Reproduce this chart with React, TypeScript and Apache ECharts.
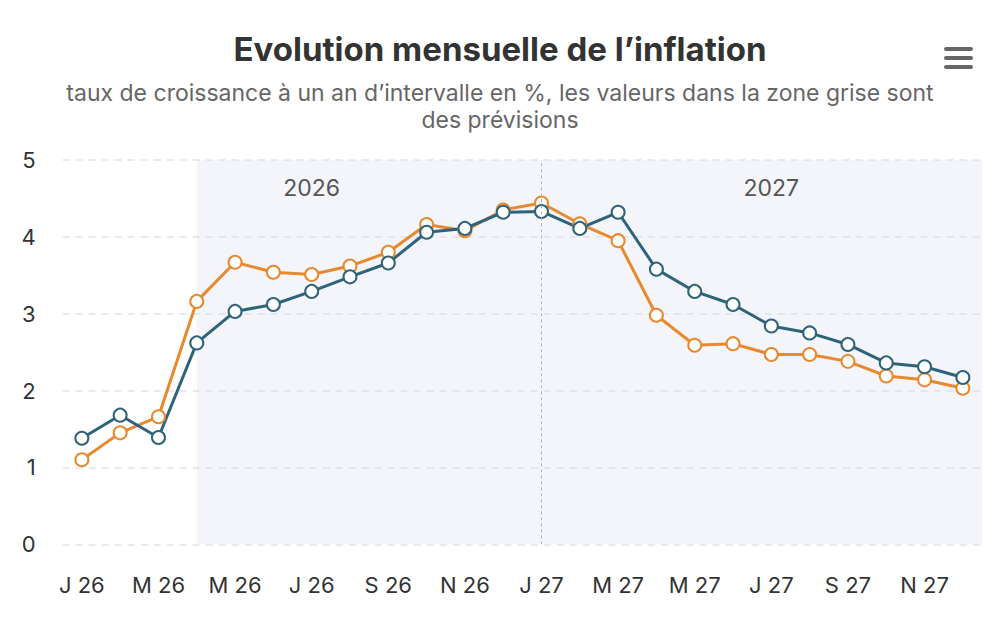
import React, { useEffect, useRef } from "react";
import * as echarts from "echarts";

// Months (unique keys) and their short tick labels
const months = [
  "2026-01", "2026-02", "2026-03", "2026-04", "2026-05", "2026-06",
  "2026-07", "2026-08", "2026-09", "2026-10", "2026-11", "2026-12",
  "2027-01", "2027-02", "2027-03", "2027-04", "2027-05", "2027-06",
  "2027-07", "2027-08", "2027-09", "2027-10", "2027-11", "2027-12",
];
const tickLabels = [
  "J 26", "F 26", "M 26", "A 26", "M 26", "J 26",
  "J 26", "A 26", "S 26", "O 26", "N 26", "D 26",
  "J 27", "F 27", "M 27", "A 27", "M 27", "J 27",
  "J 27", "A 27", "S 27", "O 27", "N 27", "D 27",
];

// Series values (taux de croissance, %)
const inflationOrange = [
  1.10, 1.45, 1.66, 3.16, 3.67, 3.54, 3.51, 3.62, 3.80, 4.16, 4.08, 4.35,
  4.44, 4.17, 3.95, 2.98, 2.59, 2.61, 2.47, 2.47, 2.38, 2.19, 2.14, 2.03,
];
const inflationBlue = [
  1.38, 1.68, 1.39, 2.62, 3.03, 3.12, 3.29, 3.48, 3.66, 4.06, 4.11, 4.32,
  4.33, 4.11, 4.32, 3.58, 3.29, 3.12, 2.84, 2.75, 2.60, 2.36, 2.31, 2.17,
];

// Forecast zone, year separator and year labels (category indices)
const forecastStartIndex = 3;
const yearSplitIndex = 12;
const yearLabels = ["2026", "2027"];
const yearLabelIndex = [6, 18];
const yearLabelValue = 4.64;

const yTicks = { min: 0, max: 5, interval: 1 };

const TITLE = "Evolution mensuelle de l\u2019inflation";
const SUBTITLE =
  "taux de croissance \u00e0 un an d\u2019intervalle en %, les valeurs dans la zone grise sont\ndes pr\u00e9visions";

const FONT = "Inter, 'Noto Sans', sans-serif";
const ORANGE = "#e8892f";
const BLUE = "#2f6379";

export default function App() {
  const ref = useRef<HTMLDivElement>(null);

  useEffect(() => {
    if (!ref.current) return;
    const chart = echarts.init(ref.current, undefined, { renderer: "svg" });

    const lineSeries = (name: string, data: number[], color: string) => ({
      name,
      type: "line",
      xAxisIndex: 0,
      yAxisIndex: 0,
      data,
      symbol: "circle",
      symbolSize: 13,
      showAllSymbol: true,
      lineStyle: { color, width: 3 },
      itemStyle: { color: "#ffffff", borderColor: color, borderWidth: 2 },
      z: 3,
    });

    chart.setOption({
      animation: false,
      backgroundColor: "#ffffff",
      textStyle: { fontFamily: FONT },
      title: {
        text: TITLE,
        subtext: SUBTITLE,
        left: "center",
        top: 24,
        itemGap: 10,
        textStyle: {
          fontFamily: FONT,
          fontSize: 33,
          fontWeight: "bold",
          color: "#333333",
          lineHeight: 40,
        },
        subtextStyle: {
          fontFamily: FONT,
          fontSize: 23,
          color: "#666666",
          lineHeight: 27,
          align: "center",
        },
      },
      grid: { left: 62.7, right: 18, top: 160, bottom: 96.7, containLabel: false },
      xAxis: [
        {
          type: "category",
          data: months,
          boundaryGap: true,
          axisLine: { show: false },
          axisTick: { show: false },
          axisLabel: {
            interval: 1,
            margin: 30,
            fontSize: 22,
            color: "#333333",
            fontFamily: FONT,
            formatter: (_v: string, i: number) => tickLabels[i],
          },
          splitLine: { show: false },
        },
        {
          type: "value",
          min: -0.5,
          max: months.length - 0.5,
          show: false,
          splitLine: { show: false },
        },
      ],
      yAxis: {
        type: "value",
        min: yTicks.min,
        max: yTicks.max,
        interval: yTicks.interval,
        axisLine: { show: false },
        axisTick: { show: false },
        axisLabel: {
          margin: 27,
          fontSize: 22,
          color: "#333333",
          fontFamily: FONT,
        },
        splitLine: {
          show: true,
          lineStyle: { color: "#e3e3e3", width: 1.5, type: [7, 6] },
        },
      },
      series: [
        {
          name: "zone",
          type: "line",
          xAxisIndex: 1,
          yAxisIndex: 0,
          data: [],
          silent: true,
          z: 1,
          markArea: {
            silent: true,
            itemStyle: { color: "rgba(214,222,238,0.3)" },
            data: [[{ xAxis: forecastStartIndex }, { xAxis: months.length - 0.5 }]],
          },
          markLine: {
            silent: true,
            symbol: ["none", "none"],
            label: { show: false },
            lineStyle: { color: "#b0b0b0", width: 1, type: [3, 3] },
            data: [{ xAxis: yearSplitIndex }],
          },
          markPoint: {
            silent: true,
            symbol: "circle",
            symbolSize: 0,
            itemStyle: { color: "transparent" },
            label: {
              show: true,
              position: "inside",
              fontSize: 23,
              color: "#555555",
              fontFamily: FONT,
              formatter: (p: any) => p.name,
            },
            data: yearLabels.map((y, i) => ({
              name: y,
              coord: [yearLabelIndex[i], yearLabelValue],
            })),
          },
        },
        lineSeries("Inflation (IPC)", inflationOrange, ORANGE),
        lineSeries("Inflation (IPCH)", inflationBlue, BLUE),
      ],
      graphic: [
        {
          type: "group",
          left: 944,
          top: 47,
          children: [0, 1, 2].map((k) => ({
            type: "rect",
            shape: { x: 0, y: k * 9, width: 29, height: 4, r: 2 },
            style: { fill: "#666666" },
          })),
        },
      ],
    });

    return () => chart.dispose();
  }, []);

  return (
    <div
      ref={ref}
      style={{ position: "fixed", left: 0, top: 0, width: 1000, height: 641 }}
    />
  );
}
